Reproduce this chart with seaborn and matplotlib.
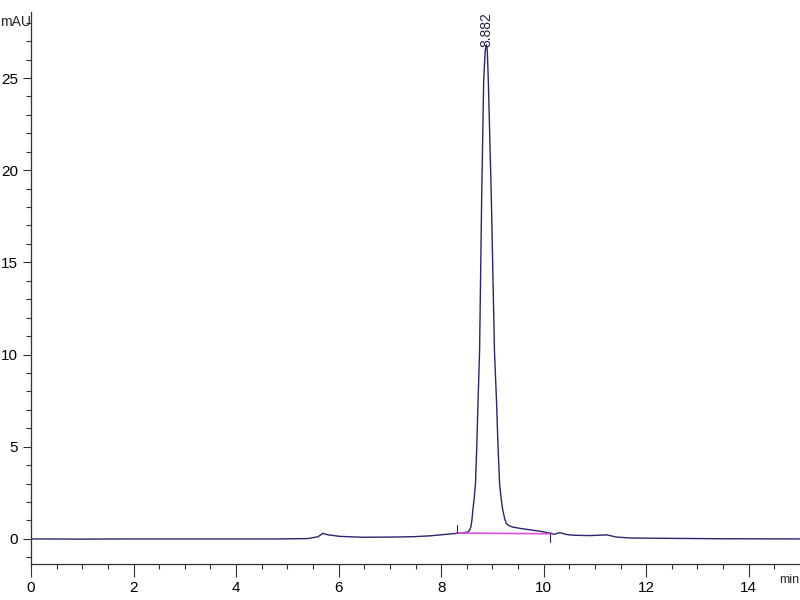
import matplotlib
matplotlib.use('Agg')
import matplotlib.pyplot as plt
from matplotlib.ticker import MultipleLocator
import seaborn as sns
import pandas as pd

# chromatogram (min, mAU)
times = [0.0, 1.0, 2.0, 3.0, 4.0, 4.85, 5.4, 5.6, 5.69, 5.8, 6.02, 6.47, 7.0, 7.45,
         7.8, 8.1, 8.3, 8.45, 8.52, 8.55, 8.58, 8.60, 8.62, 8.645, 8.67, 8.695,
         8.72, 8.75, 8.79, 8.83, 8.86, 8.882, 8.90, 8.92, 8.98, 9.04, 9.08, 9.11,
         9.14, 9.17, 9.20, 9.24, 9.27, 9.32, 9.40, 9.59, 9.92, 10.12,
         10.2, 10.31, 10.45, 10.57, 10.9, 11.23, 11.42, 11.7, 12.5, 13.5, 15.0]
signal = [0.0, -0.01, 0.0, 0.0, 0.0, 0.0, 0.02, 0.12, 0.3, 0.22, 0.14, 0.09, 0.1, 0.12,
          0.17, 0.25, 0.3, 0.34, 0.38, 0.45, 0.65, 1.0, 1.6, 2.2, 3.0, 5.0,
          7.5, 10.2, 18.4, 24.9, 26.5, 26.8, 26.5, 24.9, 18.4, 10.2, 7.5, 5.0,
          3.0, 2.2, 1.6, 1.1, 0.85, 0.72, 0.64, 0.55, 0.42, 0.32,
          0.25, 0.34, 0.24, 0.2, 0.18, 0.22, 0.1, 0.05, 0.03, 0.01, 0.0]

# integration baseline (pink) and peak label
base_t = [8.3, 10.12]
base_y = [0.32, 0.28]
peak_t = 8.882
peak_h = 26.8
peak_label = '8.882'

df = pd.DataFrame({'t': times, 'mAU': signal})
base_df = pd.DataFrame({'t': base_t, 'mAU': base_y})

sns.set_style('ticks')
plt.rcParams['font.family'] = ['Liberation Sans', 'DejaVu Sans']

fig = plt.figure(figsize=(8, 6), dpi=100)
ax = fig.add_axes([31 / 800, 36 / 600, 769 / 800, 552 / 600])

sns.lineplot(data=df, x='t', y='mAU', ax=ax, color='#26266e', linewidth=1.0,
             estimator=None, sort=False)
sns.lineplot(data=base_df, x='t', y='mAU', ax=ax, color='#e050d8', linewidth=1.2,
             estimator=None)
# start / end marks of the integration
ax.plot([base_t[0], base_t[0]], [base_y[0], base_y[0] + 0.45], color='#26266e', lw=0.8)
ax.plot([base_t[1], base_t[1]], [base_y[1], base_y[1] - 0.45], color='#26266e', lw=0.8)

ax.text(peak_t, peak_h - 0.1, peak_label, rotation=90, ha='center', va='bottom',
        fontsize=10, color='#222244')

ax.set_xlim(0, 15)
ax.set_ylim(-1.36, 28.58)
ax.xaxis.set_major_locator(MultipleLocator(2))
ax.xaxis.set_minor_locator(MultipleLocator(0.5))
ax.yaxis.set_major_locator(MultipleLocator(5))
ax.yaxis.set_minor_locator(MultipleLocator(1))
ax.tick_params(which='major', length=6, width=0.8, labelsize=11, colors='#333333',
               labelcolor='black')
ax.tick_params(axis='x', which='major', length=9)
ax.tick_params(which='minor', length=3.5, width=0.8, colors='#333333')
ax.set_xlabel('')
ax.set_ylabel('')
sns.despine(ax=ax)
for s in ['left', 'bottom']:
    ax.spines[s].set_color('#333333')
    ax.spines[s].set_linewidth(0.9)

fig.text(0 / 800, 1 - 22 / 600, 'mAU', ha='left', va='center', fontsize=10)
fig.text(799 / 800, 1 - 580 / 600, 'min', ha='right', va='center', fontsize=9)

fig.savefig('out.png', dpi=100)
